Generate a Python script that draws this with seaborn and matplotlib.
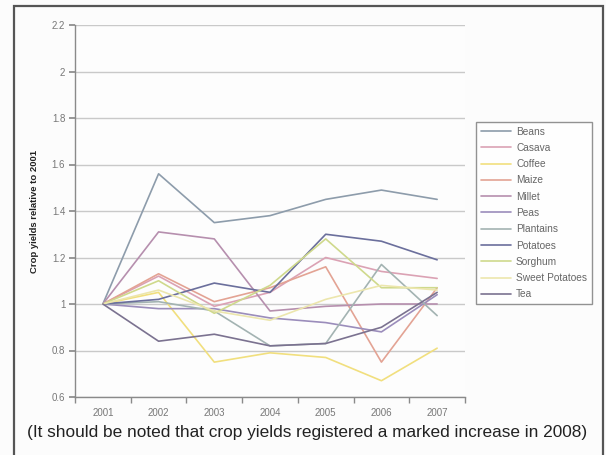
import matplotlib
matplotlib.use("Agg")
import matplotlib.pyplot as plt
from matplotlib.patches import Rectangle
from matplotlib.ticker import FixedLocator, FuncFormatter
import seaborn as sns
import pandas as pd

years = ["2001", "2002", "2003", "2004", "2005", "2006", "2007"]

beans          = [1.00, 1.56, 1.35, 1.38, 1.45, 1.49, 1.45]
cassava        = [1.00, 1.12, 0.99, 1.05, 1.20, 1.14, 1.11]
coffee         = [1.00, 1.05, 0.75, 0.79, 0.77, 0.67, 0.81]
maize          = [1.00, 1.13, 1.01, 1.07, 1.16, 0.75, 1.07]
millet         = [1.00, 1.31, 1.28, 0.97, 0.99, 1.00, 1.00]
peas           = [1.00, 0.98, 0.98, 0.94, 0.92, 0.88, 1.04]
plantains      = [1.00, 1.01, 0.97, 0.82, 0.83, 1.17, 0.95]
potatoes       = [1.00, 1.02, 1.09, 1.05, 1.30, 1.27, 1.19]
sorghum        = [1.00, 1.10, 0.96, 1.08, 1.28, 1.07, 1.07]
sweet_potatoes = [1.00, 1.06, 0.97, 0.93, 1.02, 1.08, 1.06]
tea            = [1.00, 0.84, 0.87, 0.82, 0.83, 0.90, 1.05]

crops = ["Beans", "Casava", "Coffee", "Maize", "Millet", "Peas", "Plantains",
         "Potatoes", "Sorghum", "Sweet Potatoes", "Tea"]
series = [beans, cassava, coffee, maize, millet, peas, plantains,
          potatoes, sorghum, sweet_potatoes, tea]
colors = ["#8d9cab", "#dba2b4", "#f1df7e", "#e3a394", "#b68fae", "#9b8dbb",
          "#a3b3b2", "#6b6f9c", "#cfd98c", "#ece6ad", "#7b7290"]

y_ticks = [0.6, 0.8, 1.0, 1.2, 1.4, 1.6, 1.8, 2.0, 2.2]

rows = []
for crop, vals in zip(crops, series):
    for i, (yr, v) in enumerate(zip(years, vals)):
        rows.append({"pos": i, "year": yr, "crop": crop, "yield": v})
df = pd.DataFrame(rows)

sns.set_theme(style="white")
plt.rcParams["font.family"] = ["Liberation Sans", "DejaVu Sans"]

W, H = 606, 455
fig = plt.figure(figsize=(W / 100, H / 100), dpi=100)
fig.patch.set_facecolor("#fcfcfc")

# outer frame
fig.patches.append(Rectangle((14 / W, -0.05), (603 - 14) / W, 1.05 - 6 / H,
                             transform=fig.transFigure, fill=False,
                             edgecolor="#555555", linewidth=1.6))

ax = fig.add_axes([75 / W, 1 - 397 / H, (465 - 75) / W, (397 - 25) / H])
ax.set_facecolor("#fdfdfd")

sns.lineplot(data=df, x="pos", y="yield", hue="crop", hue_order=crops,
             palette=dict(zip(crops, colors)), linewidth=1.2, ax=ax,
             legend=True)

ax.set_xlim(-0.5, len(years) - 0.5)
ax.set_ylim(0.6, 2.2)
ax.yaxis.set_major_locator(FixedLocator(y_ticks))
ax.yaxis.set_major_formatter(FuncFormatter(lambda v, p: f"{v:g}"))
ax.set_xticks(range(len(years)))
ax.set_xticklabels(years)
ax.xaxis.set_minor_locator(FixedLocator([i + 0.5 for i in range(-1, len(years))]))
ax.grid(axis="y", color="#c9c9c9", linewidth=1.0)
ax.grid(axis="x", visible=False)
for s in ["top", "right"]:
    ax.spines[s].set_visible(False)
for s in ["left", "bottom"]:
    ax.spines[s].set_color("#8a8a8a")
    ax.spines[s].set_linewidth(1.0)
ax.tick_params(axis="y", which="major", length=4, color="#8a8a8a",
               labelsize=7, labelcolor="#777777", left=True, pad=3)
ax.tick_params(axis="x", which="major", length=0, labelsize=7,
               labelcolor="#777777", pad=8)
ax.tick_params(axis="x", which="minor", length=4, color="#8a8a8a",
               bottom=True, direction="out")
ax.set_xlabel("")
ax.set_ylabel("Crop yields relative to 2001", fontsize=6.8, fontweight="bold",
              color="#222222", labelpad=9)

handles, labels = ax.get_legend_handles_labels()
leg = ax.legend(handles, labels, loc="upper left",
                bbox_to_anchor=(476 / W, 1 - 122 / H), bbox_transform=fig.transFigure,
                frameon=True, fancybox=False, fontsize=7.3, handlelength=3.0,
                handletextpad=0.5, labelspacing=0.62, borderpad=0.45,
                borderaxespad=0)
leg.get_frame().set_edgecolor("#777777")
leg.get_frame().set_linewidth(1.0)
leg.get_frame().set_facecolor("#ffffff")
for t in leg.get_texts():
    t.set_color("#666666")

fig.text(27 / W, 1 - 432 / H,
         "(It should be noted that crop yields registered a marked increase in 2008)",
         fontsize=12.4, color="#222222", va="center", ha="left")

fig.savefig("out.png", dpi=100, facecolor=fig.get_facecolor())
